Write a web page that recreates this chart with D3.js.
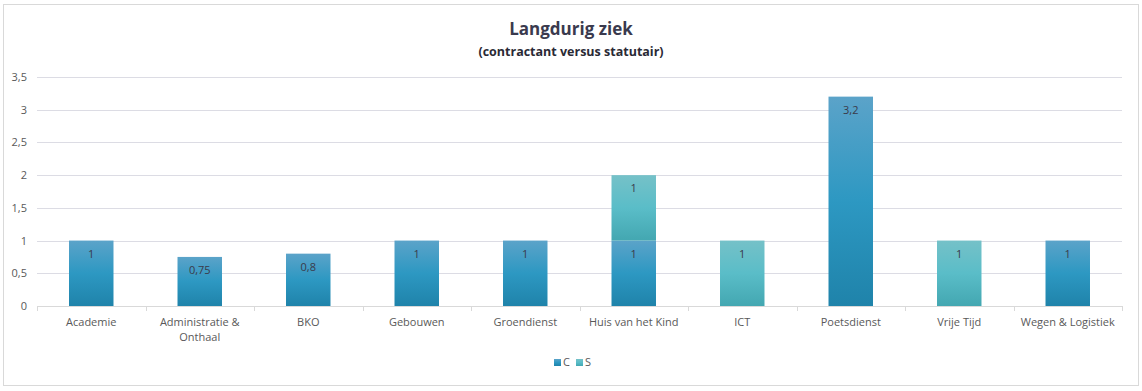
<!DOCTYPE html>
<html>
<head>
<meta charset="utf-8">
<script src="https://cdn.jsdelivr.net/npm/d3@7"></script>
<style>
  body { margin: 0; background: #fff; }
  text { font-family: "Open Sans", "Noto Sans", sans-serif; }
</style>
</head>
<body>
<svg id="chart" width="1142" height="391"></svg>
<script>
var categories = ["Academie", "Administratie & Onthaal", "BKO", "Gebouwen", "Groendienst",
    "Huis van het Kind", "ICT", "Poetsdienst", "Vrije Tijd", "Wegen & Logistiek"];
var seriesNames = ["C", "S"];
var valuesC = [1, 0.75, 0.8, 1, 1, 1, 0, 3.2, 0, 1];
var valuesS = [0, 0, 0, 0, 0, 1, 1, 0, 1, 0];
var yTicks = [0, 0.5, 1, 1.5, 2, 2.5, 3, 3.5];

var margin = {top: 77, right: 20, bottom: 85, left: 37};
var width = 1142, height = 391;
var fmt = function(v) { return String(v).replace(".", ","); };

var svg = d3.select("#chart");
var defs = svg.append("defs");

function addGradient(id, stops) {
    var g = defs.append("linearGradient").attr("id", id)
        .attr("x1", 0).attr("y1", 0).attr("x2", 0).attr("y2", 1);
    stops.forEach(function(s) {
        g.append("stop").attr("offset", s[0]).attr("stop-color", s[1]);
    });
}
addGradient("gradC", [[0, "#5ba3c9"], [0.5, "#2d98c2"], [1, "#1f83aa"]]);
addGradient("gradS", [[0, "#75c1c8"], [0.5, "#5abdc8"], [1, "#43a7b1"]]);
var fills = {C: "url(#gradC)", S: "url(#gradS)"};

// chart border
svg.append("rect")
    .attr("x", 3.5).attr("y", 4.5)
    .attr("width", 1135).attr("height", 381)
    .attr("fill", "#fff").attr("stroke", "#d9d9d9");

svg.append("text")
    .attr("x", 571).attr("y", 35)
    .attr("text-anchor", "middle")
    .style("font-size", "17px").style("font-weight", "bold").style("fill", "#3a3a4e")
    .text("Langdurig ziek");
svg.append("text")
    .attr("x", 571).attr("y", 56)
    .attr("text-anchor", "middle")
    .style("font-size", "12.5px").style("font-weight", "bold").style("fill", "#2a2a35")
    .text("(contractant versus statutair)");

var x = d3.scaleBand()
    .domain(categories)
    .range([margin.left, width - margin.right])
    .paddingInner(0.59).paddingOuter(0.295);
var xOuter = d3.scaleBand()
    .domain(categories)
    .range([margin.left, width - margin.right]);
var y = d3.scaleLinear()
    .domain([0, 3.5])
    .range([306, 77]);

// gridlines
svg.append("g").selectAll("line")
    .data(yTicks.slice(1))
    .enter().append("line")
    .attr("x1", margin.left).attr("x2", width - margin.right)
    .attr("y1", function(d) { return Math.round(y(d)) + 0.5; })
    .attr("y2", function(d) { return Math.round(y(d)) + 0.5; })
    .attr("stroke", "#dcdce4").attr("stroke-width", 1);

// y labels
svg.append("g").selectAll("text")
    .data(yTicks)
    .enter().append("text")
    .attr("x", 27).attr("y", function(d) { return y(d) + 4; })
    .attr("text-anchor", "end")
    .style("font-size", "11px").style("fill", "#595959")
    .text(fmt);

// stacked data
var rows = categories.map(function(c, i) { return {cat: c, C: valuesC[i], S: valuesS[i]}; });
var stacked = d3.stack().keys(seriesNames)(rows);

var bars = svg.append("g");
stacked.forEach(function(layer) {
    var key = layer.key;
    layer.forEach(function(d) {
        var v = d[1] - d[0];
        if (v <= 0) return;
        var bx = x(d.data.cat), bw = x.bandwidth();
        var top = y(d[1]), bottom = y(d[0]);
        bars.append("rect")
            .attr("x", bx).attr("y", top)
            .attr("width", bw).attr("height", bottom - top)
            .attr("fill", fills[key]);
        bars.append("text")
            .attr("x", bx + bw / 2).attr("y", top + 17)
            .attr("text-anchor", "middle")
            .style("font-size", "11px").style("fill", "#3a3a4a")
            .text(fmt(v));
    });
});

// x axis line + ticks
var axis = svg.append("g");
axis.append("line")
    .attr("x1", margin.left).attr("x2", width - margin.right)
    .attr("y1", 306.5).attr("y2", 306.5)
    .attr("stroke", "#d9d9d9");
axis.selectAll("line.tick")
    .data(categories.concat([null]))
    .enter().append("line")
    .attr("class", "tick")
    .attr("x1", function(d, i) { return Math.round(margin.left + i * xOuter.step()) + 0.5; })
    .attr("x2", function(d, i) { return Math.round(margin.left + i * xOuter.step()) + 0.5; })
    .attr("y1", 306).attr("y2", 311)
    .attr("stroke", "#d9d9d9");

// x labels (wrap long ones)
var labelWrap = {"Administratie & Onthaal": ["Administratie &", "Onthaal"]};
axis.selectAll("text.xl")
    .data(categories)
    .enter().append("text")
    .attr("class", "xl")
    .attr("text-anchor", "middle")
    .style("font-size", "11px").style("fill", "#595959")
    .each(function(d) {
        var lines = labelWrap[d] || [d];
        var t = d3.select(this);
        lines.forEach(function(l, i) {
            t.append("tspan")
                .attr("x", xOuter(d) + xOuter.bandwidth() / 2)
                .attr("y", 326 + i * 15)
                .text(l);
        });
    });

// legend
var legend = svg.append("g");
var legendItems = [{k: "C", x: 554}, {k: "S", x: 576}];
legendItems.forEach(function(it) {
    legend.append("rect")
        .attr("x", it.x).attr("y", 359)
        .attr("width", 7).attr("height", 7)
        .attr("fill", fills[it.k]);
    legend.append("text")
        .attr("x", it.x + 9).attr("y", 366)
        .style("font-size", "11px").style("fill", "#595959")
        .text(it.k);
});
</script>
</body>
</html>
